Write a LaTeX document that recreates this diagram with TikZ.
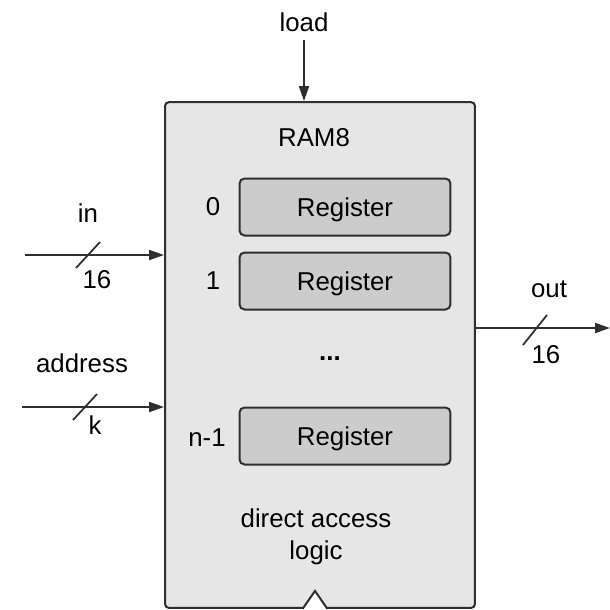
\documentclass[tikz,border=0pt]{standalone}
\usepackage{fontspec}
\setmainfont{Liberation Sans}
\usetikzlibrary{
    positioning,
    arrows.meta
}
\definecolor{chipgray}{HTML}{E6E6E6}
\definecolor{reggray}{HTML}{CCCCCC}
\definecolor{wiregray}{HTML}{2E2E2E}
\tikzset{
    >={Triangle[length=0.3cm,width=0.2cm]},
    chip/.style={
        draw=wiregray,
        fill=chipgray,
        line width=0.04cm,
        rounded corners=0.08cm,
        minimum width=6.2cm,
        minimum height=10.12cm,
        inner sep=0pt
    },
    register/.style={
        draw=wiregray,
        fill=reggray,
        line width=0.04cm,
        rounded corners=0.1cm,
        minimum width=4.22cm,
        minimum height=1.14cm,
        inner sep=0pt,
        text depth=0pt
    },
    wire/.style={
        color=wiregray,
        line width=0.04cm
    },
    busmark/.style={
        draw=wiregray,
        line width=0.035cm
    }
}

\begin{document}
\begin{tikzpicture}[
    x=0.02cm, y=-0.02cm,
    font=\fontsize{14.7}{18}\selectfont,
    >={Triangle[length=0.3cm,width=0.2cm]}
]
    \useasboundingbox (0,0) rectangle (610,610);

    % Chip
    \node[chip]     (ram)  at (320,355)  {};
    \node           (name) at (314,138)  {RAM8};

    % Registros
    \node[register] (reg0) at (345,207)  {Register};
    \node[register] (reg1) at (345,281)  {Register};
    \node[register] (regn) at (345,436)  {Register};
    \node           (idx0) at (213,207)  {0};
    \node           (idx1) at (213,281)  {1};
    \node           (idxn) at (207,438)  {n-1};
    \node           (dots) at (330,359)  {\textbf{...}};
    \node[align=center] (logic) at (316,537) {direct access\\logic};

    % Entradas y salida
    \node           (load) at (304,22)   {load};
    \node           (in)   at (88,213)   {in};
    \node           (inw)  at (97,280)   {16};
    \node           (addr) at (82,363)   {address};
    \node           (addw) at (95,425)   {k};
    \node           (out)  at (549,289)  {out};
    \node           (outw) at (546,355)  {16};

    \coordinate (loadS) at (304,40);
    \coordinate (inS)   at (25,255);
    \coordinate (addrS) at (22,407);
    \coordinate (outE)  at (610,328);

    % Conexiones
    \path[->, wire]
        (loadS) edge (loadS |- ram.north)
        (inS)   edge (inS -| ram.west)
        (addrS) edge (addrS -| ram.west)
        (ram.east |- outE) edge (outE);

    % Marcas de bus
    \draw[busmark] (76,268)  -- (100,242);
    \draw[busmark] (73,420)  -- (97,394);
    \draw[busmark] (523,345) -- (547,315);

    % Reloj
    \draw[wire, fill=white]
        ([xshift=-0.35cm]ram.south) -- ++(12.5,-18) -- ++(12.5,18);

\end{tikzpicture}
\end{document}
